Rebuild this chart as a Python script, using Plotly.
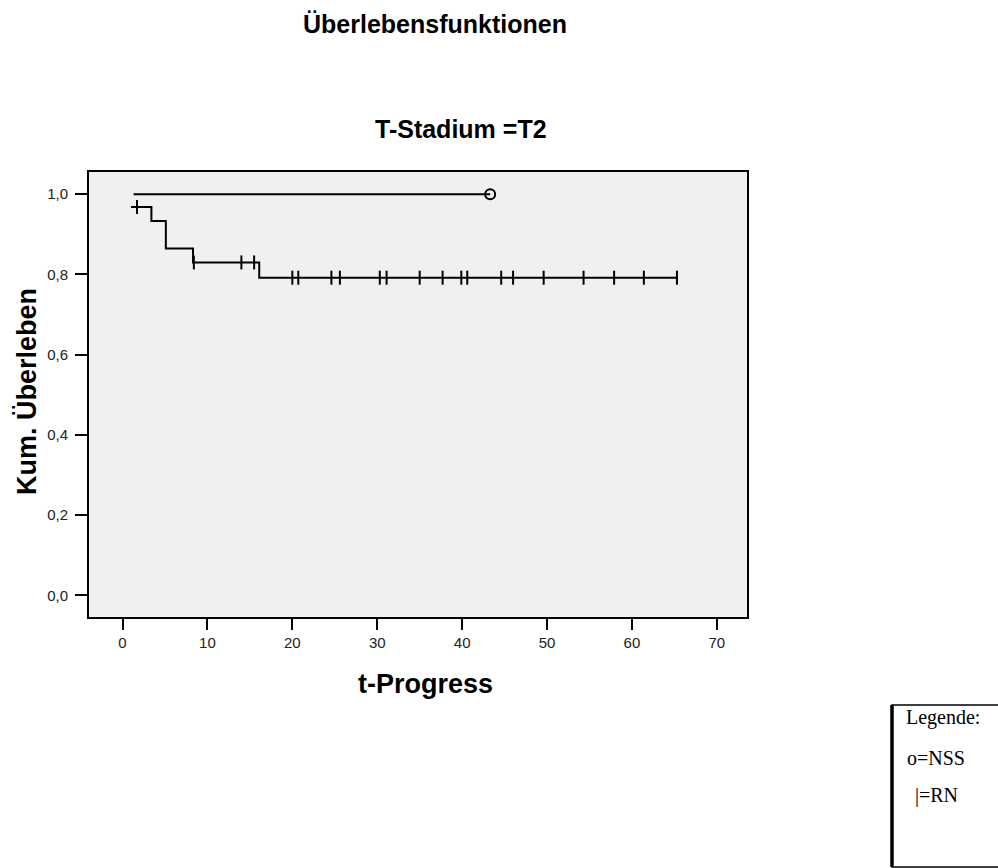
import numpy as np
import plotly.graph_objects as go

# Kaplan-Meier data, group RN (event times and survival after each step)
rn_times = [1.0, 3.4, 5.1, 8.3, 16.1, 65.3]
rn_surv = [0.968, 0.933, 0.865, 0.830, 0.792, 0.792]
# censored observations in group RN
rn_censored = [1.7, 8.4, 14.0, 15.5, 20.0, 20.7, 24.6, 25.6, 30.3, 31.1, 35.0,
               37.7, 39.9, 40.6, 44.6, 46.0, 49.6, 54.3, 57.9, 61.4, 65.3]

# group NSS: no events, single censored endpoint
nss_times = [1.3, 43.3]
nss_surv = [1.0, 1.0]
nss_censored = [43.3]

x_ticks = [0, 10, 20, 30, 40, 50, 60, 70]
y_ticks = [0.0, 0.2, 0.4, 0.6, 0.8, 1.0]
y_tick_labels = ["0,0", "0,2", "0,4", "0,6", "0,8", "1,0"]

W, H = 998, 868
L, R, T, B = 89, 747, 172, 617  # plot area in pixels


def fx(px):
    return (px - L) / (R - L)


def fy(py):
    return (B - py) / (B - T)


def surv_at(t, times, surv):
    idx = np.searchsorted(times, t, side="right") - 1
    return surv[max(idx, 0)]


rn_cens_y = [surv_at(t, rn_times, rn_surv) for t in rn_censored]
nss_cens_y = [surv_at(t, nss_times, nss_surv) for t in nss_censored]

fig = go.Figure()

fig.add_trace(go.Scatter(x=nss_times, y=nss_surv, mode="lines", line_shape="hv",
                         line=dict(color="black", width=2), hoverinfo="skip"))
fig.add_trace(go.Scatter(x=nss_censored, y=nss_cens_y, mode="markers",
                         marker=dict(symbol="circle-open", size=10, color="black",
                                     line=dict(color="black", width=2))))

fig.add_trace(go.Scatter(x=rn_times, y=rn_surv, mode="lines", line_shape="hv",
                         line=dict(color="black", width=2), hoverinfo="skip"))
fig.add_trace(go.Scatter(x=rn_censored, y=rn_cens_y, mode="markers",
                         marker=dict(symbol="line-ns", size=10, color="black",
                                     line=dict(color="black", width=2))))

axis_font = dict(family="Liberation Sans, Arial, sans-serif", size=15, color="#222222")

fig.update_xaxes(range=[-3.95, 73.55], tickvals=x_ticks, ticks="outside", ticklen=11,
                 tickwidth=2, tickcolor="black", showline=True, linecolor="black",
                 linewidth=2, mirror=True, showgrid=False, zeroline=False,
                 tickfont=axis_font, ticklabelstandoff=0)
fig.update_yaxes(range=[-0.0536, 1.0554], tickvals=y_ticks, ticktext=y_tick_labels,
                 ticks="outside", ticklen=12, tickwidth=2, tickcolor="black",
                 showline=True, linecolor="black", linewidth=2, mirror=True,
                 showgrid=False, zeroline=False, tickfont=axis_font,
                 ticklabelstandoff=4)

bold = "Liberation Sans, Arial, sans-serif"
serif = "Liberation Serif, Times New Roman, serif"
annotations = [
    dict(text="<b>Überlebensfunktionen</b>", x=fx(435), y=fy(24),
         font=dict(family=bold, size=25, color="black")),
    dict(text="<b>T-Stadium =T2</b>", x=fx(461), y=fy(129),
         font=dict(family=bold, size=25, color="black")),
    dict(text="<b>t-Progress</b>", x=fx(425), y=fy(684),
         font=dict(family=bold, size=27, color="black")),
    dict(text="<b>Kum. Überleben</b>", x=fx(27), y=fy(392), textangle=-90,
         font=dict(family=bold, size=27, color="black")),
    dict(text="Legende:", x=fx(904), y=fy(717), xanchor="left",
         font=dict(family=serif, size=20, color="black")),
    dict(text="o=NSS", x=fx(905), y=fy(758), xanchor="left",
         font=dict(family=serif, size=20, color="black")),
    dict(text="|=RN", x=fx(913), y=fy(795), xanchor="left",
         font=dict(family=serif, size=20, color="black")),
]
for a in annotations:
    a.setdefault("xanchor", "center")
    a.update(xref="paper", yref="paper", yanchor="middle", showarrow=False)

fig.update_layout(
    width=W, height=H, autosize=False,
    margin=dict(l=L, r=W - R, t=T, b=H - B, pad=0),
    plot_bgcolor="#f0f0f0", paper_bgcolor="white",
    showlegend=False, annotations=annotations,
    shapes=[
        dict(type="rect", xref="paper", yref="paper",
             x0=fx(892), x1=fx(1005), y0=fy(705), y1=fy(867),
             line=dict(color="black", width=1.5), fillcolor="rgba(0,0,0,0)"),
        dict(type="line", xref="paper", yref="paper",
             x0=fx(892), x1=fx(892), y0=fy(705), y1=fy(867),
             line=dict(color="black", width=3.5)),
    ],
)

fig.write_html("out.html")
